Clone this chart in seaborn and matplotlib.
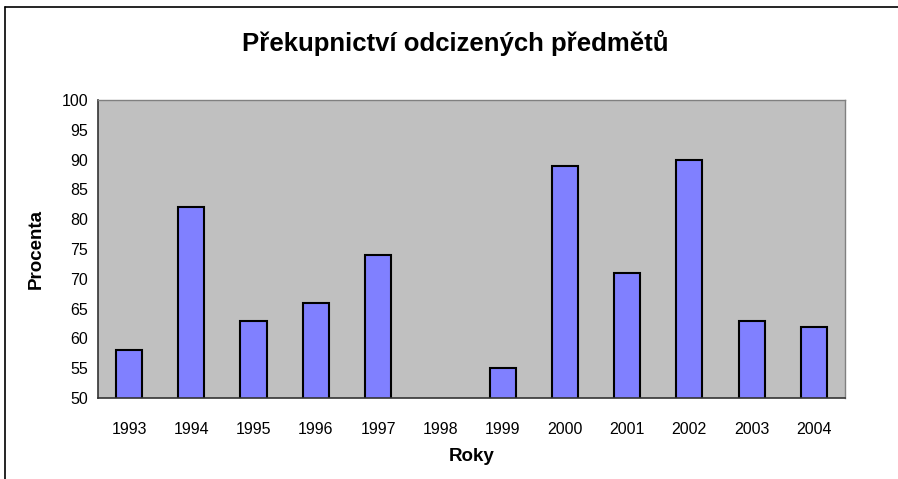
import matplotlib
matplotlib.use("Agg")
import matplotlib.pyplot as plt
import seaborn as sns
import pandas as pd
import numpy as np
from matplotlib.lines import Line2D

years = ["1993", "1994", "1995", "1996", "1997", "1998",
         "1999", "2000", "2001", "2002", "2003", "2004"]
procenta = [58, 82, 63, 66, 74, np.nan, 55, 89, 71, 90, 63, 62]
y_ticks = list(range(50, 101, 5))

sns.set_style("white")
plt.rcParams['font.family'] = ['Liberation Sans', 'DejaVu Sans']
plt.rcParams['text.color'] = 'black'
plt.rcParams['axes.labelcolor'] = 'black'
plt.rcParams['xtick.color'] = 'black'
plt.rcParams['ytick.color'] = 'black'

df = pd.DataFrame({"rok": years, "procenta": procenta})

fig = plt.figure(figsize=(8.98, 4.79), dpi=100)
ax = fig.add_axes([0.109, 0.169, 0.832, 0.622])
sns.barplot(data=df, x="rok", y="procenta", color="#8080FF", saturation=1,
            width=0.42, edgecolor="black", linewidth=1.5, ax=ax)
ax.set_facecolor("#C0C0C0")
ax.set_ylim(50, 100)
ax.set_xlim(-0.5, len(years) - 0.5)
ax.set_yticks(y_ticks)
ax.set_xticks(range(len(years)))
ax.set_xticklabels(years)
ax.set_xticks(np.arange(-0.5, len(years), 1), minor=True)
ax.tick_params(axis="x", which="major", length=0, pad=17, labelsize=11.5)
ax.tick_params(axis="x", which="minor", length=5, width=1, direction="out", color="#333333")
ax.tick_params(axis="y", length=5, width=1, direction="out", color="#333333", labelsize=11.5, pad=2)
for side in ["top", "right"]:
    ax.spines[side].set_color("#808080")
    ax.spines[side].set_linewidth(1)
for side in ["left", "bottom"]:
    ax.spines[side].set_color("#333333")
    ax.spines[side].set_linewidth(1.2)

ax.set_xlabel("Roky", fontsize=13.5, fontweight="bold", labelpad=8)
ax.set_ylabel("Procenta", fontsize=13.5, fontweight="bold", labelpad=12)
fig.suptitle("Překupnictví odcizených předmětů", fontsize=18.5, fontweight="bold",
             x=0.507, y=0.937)

# chart area border (top and left edges visible)
fig.add_artist(Line2D([0.006, 1.0], [0.985, 0.985], color="black", lw=1.2,
                      transform=fig.transFigure))
fig.add_artist(Line2D([0.006, 0.006], [0.0, 0.985], color="black", lw=1.2,
                      transform=fig.transFigure))

fig.savefig("out.png", dpi=100)
plt.close(fig)
